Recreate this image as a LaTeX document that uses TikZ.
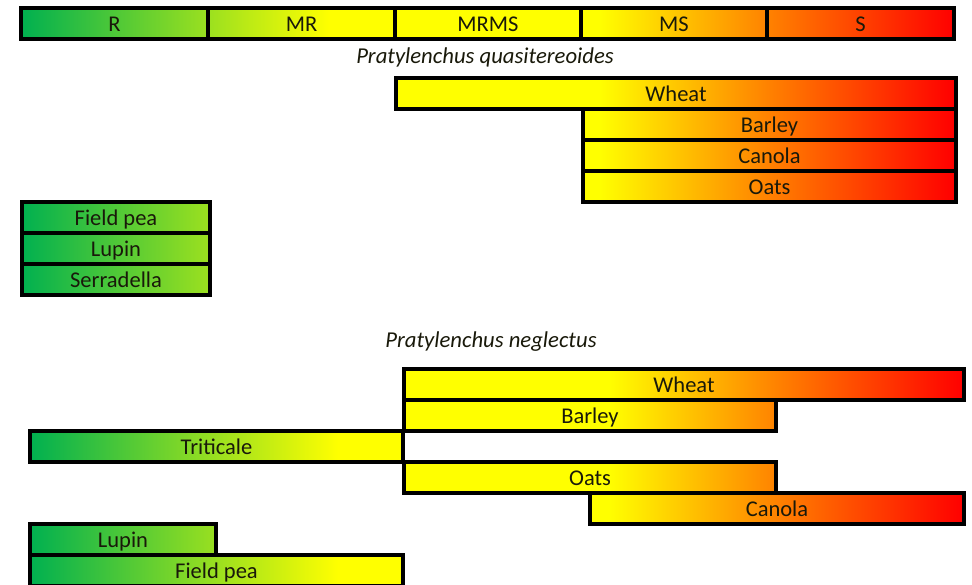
\documentclass[tikz,border=0pt]{standalone}
\usepackage{fontspec}
\setmainfont{Carlito}
\usetikzlibrary{backgrounds}
\definecolor{sgreen}{RGB}{0,176,80}
\definecolor{sorange}{RGB}{255,130,0}
\definecolor{labeltext}{RGB}{25,25,10}
\pgfdeclarehorizontalshading{resist}{100bp}{color(0bp)=(sgreen); color(25bp)=(sgreen); color(41.5bp)=(yellow); color(56bp)=(yellow); color(65bp)=(sorange); color(75bp)=(red); color(100bp)=(red)}
\tikzset{
  bar/.style={draw=black, line width=3.3pt, minimum height=31pt, inner sep=0pt, outer sep=0pt,
    anchor=north west, text height=16pt, text depth=0pt, text=labeltext,
    font=\fontsize{22.5}{26}\selectfont},
  title/.style={anchor=base, font=\fontsize{22.7}{26}\selectfont\itshape, inner sep=0pt, text=labeltext}
}
\begin{document}
\begin{tikzpicture}[x=1pt,y=-1pt]
\useasboundingbox (0,0) rectangle (972,585);
% scale
\node[bar, minimum width=187pt] (r) at (21,8) {R};
\node[bar, minimum width=187pt] (mr) at (208,8) {MR};
\node[bar, minimum width=186pt] (mrms) at (395,8) {MRMS};
\node[bar, minimum width=186pt] (ms) at (581,8) {MS};
\node[bar, minimum width=187pt] (s) at (767,8) {S};
% P. quasitereoides
\node[title] (tq) at (485,64) {Pratylenchus quasitereoides};
\node[bar, minimum width=560pt] (qwheat) at (396,78) {Wheat};
\node[bar, minimum width=373pt] (qbarley) at (583,109) {Barley};
\node[bar, minimum width=373pt] (qcanola) at (583,140) {Canola};
\node[bar, minimum width=373pt] (qoats) at (583,171) {Oats};
\node[bar, minimum width=188pt] (qpea) at (22,202) {Field pea};
\node[bar, minimum width=188pt] (qlupin) at (22,233) {Lupin};
\node[bar, minimum width=188pt] (qserr) at (22,264) {Serradella};
% P. neglectus
\node[title] (tn) at (491,348) {Pratylenchus neglectus};
\node[bar, minimum width=560pt] (nwheat) at (404,369) {Wheat};
\node[bar, minimum width=372pt] (nbarley) at (404,400) {Barley};
\node[bar, minimum width=373pt] (ntrit) at (30,431) {Triticale};
\node[bar, minimum width=372pt] (noats) at (404,462) {Oats};
\node[bar, minimum width=374pt] (ncanola) at (590,493) {Canola};
\node[bar, minimum width=186pt] (nlupin) at (30,524) {Lupin};
\node[bar, minimum width=373pt] (npea) at (30,555) {Field pea};
% fills
\begin{scope}[on background layer]
  \foreach \n in {r,mr,mrms,ms,s,qwheat,qbarley,qcanola,qoats,qpea,qlupin,qserr}{
    \begin{scope}
      \clip (\n.north west) rectangle (\n.south east);
      \fill[shading=resist] (21,0) rectangle (954,590);
    \end{scope}
  }
  \foreach \n in {nwheat,nbarley,ntrit,noats,ncanola,nlupin,npea}{
    \begin{scope}
      \clip (\n.north west) rectangle (\n.south east);
      \fill[shading=resist] (30,0) rectangle (963,590);
    \end{scope}
  }
\end{scope}
\end{tikzpicture}
\end{document}
